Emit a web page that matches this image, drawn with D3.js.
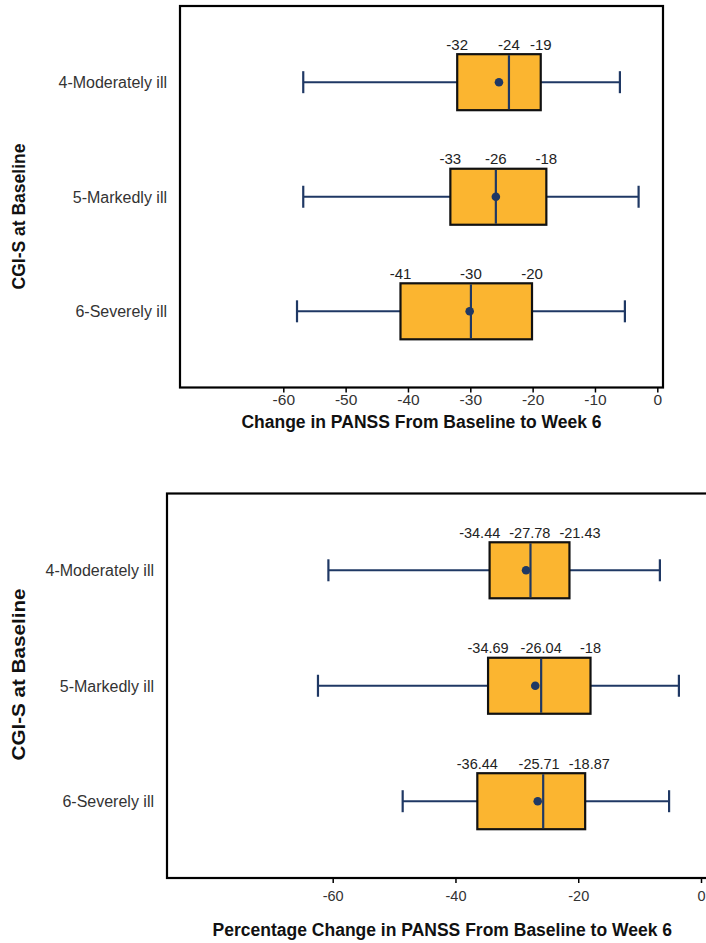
<!DOCTYPE html>
<html>
<head>
<meta charset="utf-8">
<script src="https://cdn.jsdelivr.net/npm/d3@7"></script>
<style>
  html, body { margin: 0; padding: 0; background: #fff; }
  svg { display: block; }
  text { font-family: "Liberation Sans", Arial, Helvetica, sans-serif; }
</style>
</head>
<body>
<svg id="chart" width="706" height="943"></svg>
<script>
// ---------------- DATA ----------------
const categories = ["4-Moderately ill", "5-Markedly ill", "6-Severely ill"];

// Chart 1: Change in PANSS From Baseline to Week 6
const chgMin    = [-56.8, -56.8, -57.8];
const chgQ1     = [-32.1, -33.2, -41.2];
const chgMedian = [-23.8, -25.9, -29.9];
const chgQ3     = [-18.7, -17.8, -20.1];
const chgMax    = [-6.0, -3.0, -5.2];
const chgMean   = [-25.4, -25.9, -30.1];
const chgTicks  = [-60, -50, -40, -30, -20, -10, 0];

// Chart 2: Percentage Change in PANSS From Baseline to Week 6
const pctMin    = [-60.7, -62.4, -48.6];
const pctQ1     = [-34.44, -34.69, -36.44];
const pctMedian = [-27.78, -26.04, -25.71];
const pctQ3     = [-21.43, -18.00, -18.87];
const pctMax    = [-6.7, -3.6, -5.2];
const pctMean   = [-28.5, -27.0, -26.6];
const pctTicks  = [-60, -40, -20, 0];

const yTitle = "CGI-S at Baseline";
const xTitle1 = "Change in PANSS From Baseline to Week 6";
const xTitle2 = "Percentage Change in PANSS From Baseline to Week 6";

// ---------------- DRAW ----------------
const svg = d3.select("#chart");
const BOX_FILL = "#FBB530";
const NAVY = "#1F3864";

function panel(cfg) {
  const g = svg.append("g");
  const x = d3.scaleLinear().domain(cfg.tickDomain).range(cfg.tickRange);
  const y = d3.scalePoint().domain(categories).range([cfg.y0, cfg.y1]).padding(0.665);
  const boxH = 56, capH = 22;

  const rows = categories.map((c, i) => ({
    cat: c, min: cfg.min[i], q1: cfg.q1[i], med: cfg.med[i], q3: cfg.q3[i],
    max: cfg.max[i], mean: cfg.mean[i]
  }));

  // frame
  g.append("rect")
    .attr("x", cfg.x0).attr("y", cfg.y0)
    .attr("width", cfg.x1 - cfg.x0).attr("height", cfg.y1 - cfg.y0)
    .attr("fill", "none").attr("stroke", "#000").attr("stroke-width", 2.2);

  // x axis ticks
  const ax = g.append("g").attr("transform", `translate(0,${cfg.y1})`)
    .call(d3.axisBottom(x).tickValues(cfg.ticks).tickSize(5).tickPadding(4)
      .tickFormat(d => String(d)));
  ax.select(".domain").remove();
  ax.selectAll(".tick line").attr("stroke", "#000").attr("stroke-width", 1.5);
  ax.selectAll(".tick text").attr("fill", "#333")
    .style("font-size", cfg.tickFont + "px")
    .attr("dy", null)
    .attr("y", cfg.tickBaseline - cfg.y1);

  // category labels
  g.selectAll("text.cat").data(rows).join("text").attr("class", "cat")
    .attr("x", cfg.x0 - 13).attr("y", d => y(d.cat)).attr("dy", "0.36em")
    .attr("text-anchor", "end").attr("fill", "#333")
    .style("font-size", "16px").text(d => d.cat);

  // whiskers
  const wk = g.selectAll("g.row").data(rows).join("g").attr("class", "row");
  wk.append("line")
    .attr("x1", d => x(d.min)).attr("x2", d => x(d.max))
    .attr("y1", d => y(d.cat)).attr("y2", d => y(d.cat))
    .attr("stroke", NAVY).attr("stroke-width", 2);
  wk.append("line")
    .attr("x1", d => x(d.min)).attr("x2", d => x(d.min))
    .attr("y1", d => y(d.cat) - capH / 2).attr("y2", d => y(d.cat) + capH / 2)
    .attr("stroke", NAVY).attr("stroke-width", 2.2);
  wk.append("line")
    .attr("x1", d => x(d.max)).attr("x2", d => x(d.max))
    .attr("y1", d => y(d.cat) - capH / 2).attr("y2", d => y(d.cat) + capH / 2)
    .attr("stroke", NAVY).attr("stroke-width", 2.2);
  // box
  wk.append("rect")
    .attr("x", d => x(d.q1)).attr("width", d => x(d.q3) - x(d.q1))
    .attr("y", d => y(d.cat) - boxH / 2).attr("height", boxH)
    .attr("fill", BOX_FILL).attr("stroke", "#111").attr("stroke-width", 2.2);
  // median
  wk.append("line")
    .attr("x1", d => x(d.med)).attr("x2", d => x(d.med))
    .attr("y1", d => y(d.cat) - boxH / 2 + 1).attr("y2", d => y(d.cat) + boxH / 2 - 1)
    .attr("stroke", NAVY).attr("stroke-width", 2.2);
  // mean
  wk.append("circle")
    .attr("cx", d => x(d.mean)).attr("cy", d => y(d.cat)).attr("r", 4.3)
    .attr("fill", NAVY);

  // value labels with simple de-overlap
  rows.forEach(d => {
    const items = [d.q1, d.med, d.q3].map(v => ({ v, x: x(v) }));
    const texts = items.map(it => g.append("text")
      .attr("y", y(d.cat) - boxH / 2 - 4.5)
      .attr("text-anchor", "middle").attr("fill", "#222")
      .style("font-size", cfg.valFont + "px").text(cfg.fmt(it.v)));
    const w = texts.map(t => t.node().getComputedTextLength());
    for (let iter = 0; iter < 50; iter++) {
      for (let i = 0; i < items.length - 1; i++) {
        const need = (w[i] + w[i + 1]) / 2 + cfg.pad;
        const gap = items[i + 1].x - items[i].x;
        if (gap < need) {
          const s = (need - gap) / 2;
          items[i].x -= s; items[i + 1].x += s;
        }
      }
    }
    texts.forEach((t, i) => t.attr("x", items[i].x));
  });

  // x title
  g.append("text")
    .attr("x", cfg.xTitleX).attr("y", cfg.xTitleY)
    .attr("text-anchor", "middle").attr("font-weight", "bold").attr("fill", "#111")
    .style("font-size", "17.5px").text(cfg.xTitle);

  // y title
  const yt = g.append("text")
    .attr("transform", `translate(${24.5},${cfg.yTitleY}) rotate(-90)`)
    .attr("text-anchor", "middle").attr("font-weight", "bold").attr("fill", "#111")
    .style("font-size", "17.5px").text(yTitle);
  if (cfg.yTitleLen) yt.attr("textLength", cfg.yTitleLen).attr("lengthAdjust", "spacingAndGlyphs");
}

panel({
  x0: 180, x1: 663, y0: 6, y1: 387.5,
  tickDomain: [-60, 0], tickRange: [283.3, 657.3],
  ticks: chgTicks, tickFont: 15.5, tickBaseline: 404.5,
  min: chgMin, q1: chgQ1, med: chgMedian, q3: chgQ3, max: chgMax, mean: chgMean,
  fmt: v => String(Math.round(v)), pad: 6, valFont: 15,
  xTitle: xTitle1, xTitleX: 421.5, xTitleY: 428,
  yTitleY: 216.5
});

panel({
  x0: 167, x1: 718, y0: 493.5, y1: 878,
  tickDomain: [-60, 0], tickRange: [332.7, 701],
  ticks: pctTicks, tickFont: 14.5, tickBaseline: 901,
  min: pctMin, q1: pctQ1, med: pctMedian, q3: pctQ3, max: pctMax, mean: pctMean,
  fmt: v => String(+v.toFixed(2)), pad: 9, valFont: 14.5,
  xTitle: xTitle2, xTitleX: 442.3, xTitleY: 936,
  yTitleY: 674.5, yTitleLen: 172
});
</script>
</body>
</html>
